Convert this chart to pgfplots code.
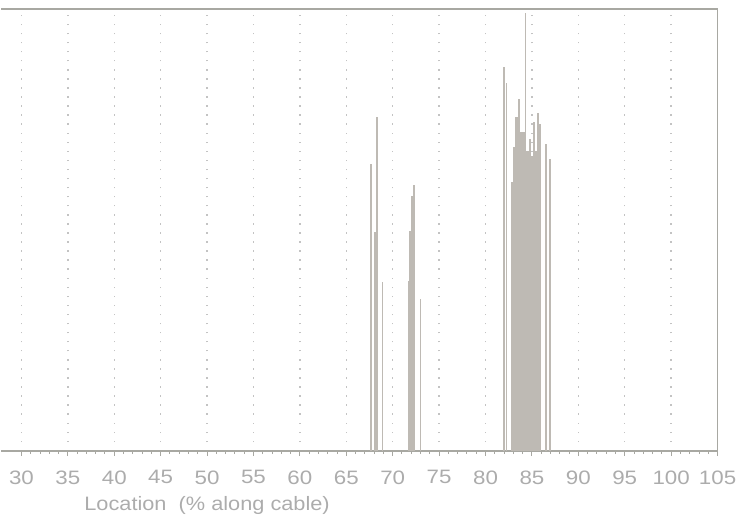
\documentclass[border=0pt]{standalone}
\usepackage{pgfplots}
\pgfplotsset{compat=1.18}
\usepackage{fontspec}
\setmainfont{Liberation Sans}
\definecolor{barcol}{RGB}{190,186,180}
\definecolor{axcol}{RGB}{168,168,162}
\definecolor{txtcol}{RGB}{172,172,172}
\definecolor{gridcol}{RGB}{195,195,195}
\begin{document}
\begin{tikzpicture}
\begin{axis}[
  at={(0,0)}, anchor=south west,
  x=9.32bp, y=1bp,
  xmin=27.83, xmax=105, ymin=0, ymax=444,
  xtick={30,35,...,105}, minor x tick num=4,
  ytick=\empty,
  axis x line=box, axis y line*=right,
  xtick pos=bottom,
  tick align=outside,
  major tick length=5bp, minor tick length=3bp,
  every tick/.style={axcol, line width=1bp},
  axis line style={axcol, line width=1.6bp},
  xmajorgrids,
  major grid style={gridcol, line width=1.4bp, dash pattern=on 1.4bp off 7.7bp},
  /pgf/number format/assume math mode=true,
  xticklabel style={font=\fontsize{19.5bp}{22bp}\selectfont, text=txtcol, xscale=1.15, yshift=-11bp},
  xlabel={Location\ \ (\% along cable)},
  xlabel style={font=\fontsize{19.5bp}{23bp}\selectfont, text=txtcol, xscale=1.12,
     at={(axis description cs:0.2873,0)}, anchor=base, yshift=-60bp},
  clip=false,
]
\draw[axcol, line width=2.6bp] (rel axis cs:0,0) -- (rel axis cs:1,0);
% isolated bars
\addplot[ycomb, draw=barcol, line width=1.8bp] coordinates {
  (67.64,288) (68.07,220) (68.27,336) (68.90,170)
  (73.00,153)
  (82.02,386) (82.27,370) (86.49,308) (86.95,293)
};
% dense bars
\addplot[ycomb, draw=barcol, line width=1.05bp] coordinates {
  (71.65,171) (71.75,171) (71.85,221) (71.95,221) (72.05,256) (72.15,256) (72.25,267) (72.35,267)
  (82.8,270) (82.9,270) (83.0,305) (83.1,305) (83.2,336) (83.3,336) (83.4,336) (83.5,208)
  (83.6,354) (83.7,354) (83.8,320) (83.9,320) (84.0,320) (84.1,320) (84.2,320) (84.3,440)
  (84.4,301) (84.5,301) (84.6,301) (84.7,313) (84.8,313) (84.9,296) (85.0,296) (85.1,296)
  (85.2,330) (85.3,330) (85.4,301) (85.5,301) (85.6,340) (85.7,340) (85.8,328) (85.9,328)
};
\end{axis}
\path (0,-71bp) rectangle (740bp,453bp);
\end{tikzpicture}
\end{document}
